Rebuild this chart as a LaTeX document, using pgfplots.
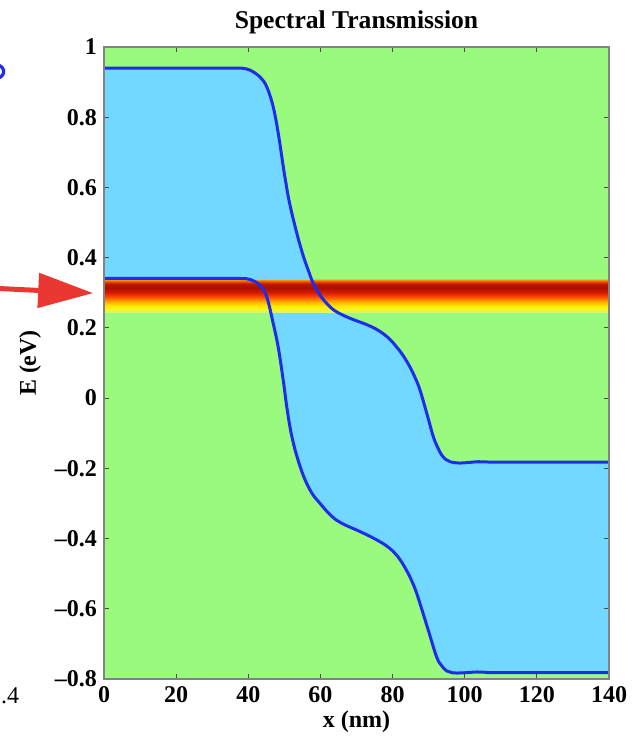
\documentclass[border=0pt]{standalone}
\usepackage{pgfplots}
\pgfplotsset{compat=1.18}
\usepackage{pgfplotstable}
\usepgfplotslibrary{fillbetween}
\usetikzlibrary{arrows.meta}
\usepackage{fontspec}
\setmainfont{Liberation Serif}

\definecolor{bggreen}{RGB}{154,250,126}
\definecolor{bandblue}{RGB}{115,216,255}
\definecolor{curveblue}{RGB}{30,45,235}
\definecolor{arrowred}{RGB}{235,55,50}
\definecolor{framegray}{RGB}{130,130,130}

\definecolor{ba}{RGB}{215,245,115}
\definecolor{bb}{RGB}{245,245,40}
\definecolor{bc}{RGB}{255,235,0}
\definecolor{bd}{RGB}{255,190,0}
\definecolor{be}{RGB}{255,120,0}
\definecolor{bf}{RGB}{245,60,0}
\definecolor{bg}{RGB}{210,25,0}
\definecolor{bh}{RGB}{170,15,0}
\definecolor{bi}{RGB}{190,25,0}
\definecolor{bj}{RGB}{240,90,0}
\definecolor{bk}{RGB}{255,170,0}

\pgfdeclareverticalshading{bandshade}{100bp}{%
  color(0bp)=(ba); color(25bp)=(ba); color(28.8bp)=(bb); color(34.1bp)=(bc);
  color(39.5bp)=(bd); color(44.9bp)=(be); color(50.3bp)=(bf); color(55.6bp)=(bg);
  color(62.6bp)=(bh); color(68.5bp)=(bi); color(72.3bp)=(bj); color(75bp)=(bk);
  color(100bp)=(bk)}

% upper band edge
\pgfplotstableread{
x E
0 0.940
20 0.940
36 0.940
38.5 0.939
40.5 0.934
43.2 0.915
45.1 0.887
46.9 0.830
48.3 0.755
49.7 0.659
50.4 0.615
51.1 0.573
52.0 0.530
53.0 0.488
54.1 0.445
55.3 0.403
56.6 0.365
58.0 0.327
59.8 0.295
61.7 0.270
63.8 0.250
66.3 0.236
69.0 0.224
71.9 0.213
74.2 0.203
76.5 0.190
79.0 0.170
81.1 0.146
83.0 0.120
84.8 0.089
86.3 0.057
87.6 0.023
89.5 -0.044
91.3 -0.110
92.5 -0.140
93.6 -0.162
94.8 -0.175
95.9 -0.181
97.3 -0.184
98.7 -0.185
101.5 -0.183
104 -0.181
107 -0.182
140 -0.182
}\upperedge

% lower band edge
\pgfplotstableread{
x E
0 0.341
20 0.341
36 0.341
38.5 0.340
40.5 0.338
43.2 0.322
45.1 0.289
46.9 0.213
48.3 0.145
49.7 0.050
50.6 -0.020
51.6 -0.085
52.5 -0.128
53.4 -0.163
54.8 -0.208
56.2 -0.243
57.9 -0.275
59.9 -0.300
62.0 -0.325
64.5 -0.348
67.2 -0.363
70.1 -0.376
73.2 -0.391
76.5 -0.409
79.0 -0.426
81.1 -0.447
83.0 -0.475
84.8 -0.509
86.3 -0.545
87.6 -0.585
89.9 -0.661
92.2 -0.737
93.6 -0.762
95.0 -0.777
96.4 -0.782
97.8 -0.783
100.5 -0.782
103.3 -0.780
106 -0.781
110 -0.782
140 -0.782
}\loweredge

\begin{document}
\begin{tikzpicture}
\begin{axis}[
  name=ax,
  scale only axis,
  width=252.5pt, height=316pt,
  xmin=0, xmax=140, ymin=-0.8, ymax=1,
  xtick={0,20,...,140},
  ytick={-0.8,-0.6,-0.4,-0.2,0,0.2,0.4,0.6,0.8,1},
  yticklabels={–0.8,–0.6,–0.4,–0.2,0,0.2,0.4,0.6,0.8,1},
  tick align=inside,
  major tick length=2.5pt,
  tick style={black!70, line width=0.4pt},
  axis line style={framegray, line width=0.6pt},
  axis background/.style={fill=bggreen},
  axis on top,
  clip=false,
  /pgf/number format/assume math mode=true,
  tick label style={font=\bfseries\fontsize{12}{12}\selectfont},
  title={Spectral Transmission},
  title style={font=\bfseries\fontsize{12.8}{13}\selectfont, at={(axis description cs:0.5,1)}, anchor=base, yshift=3pt},
  xlabel={x (nm)},
  xlabel style={font=\bfseries\fontsize{12}{12}\selectfont, at={(axis description cs:0.5,0)}, anchor=base, yshift=-24pt},
  ylabel={E (eV)},
  ylabel style={font=\bfseries\fontsize{12}{12}\selectfont, at={(axis description cs:0,0.5)}, anchor=center, yshift=37pt},
]
\addplot[draw=none, name path=up] table[x=x, y=E] {\upperedge};
\addplot[draw=none, name path=lo] table[x=x, y=E] {\loweredge};
\addplot[fill=bandblue, draw=none] fill between[of=up and lo];

% transmission band
\addplot[draw=none, shade, shading=bandshade] coordinates {(0,0.245) (140,0.245) (140,0.338) (0,0.338)} -- cycle;

\addplot[curveblue, line width=1.5pt, smooth, tension=0.6] table[x=x, y=E] {\upperedge};
\addplot[curveblue, line width=1.5pt, smooth, tension=0.6] table[x=x, y=E] {\loweredge};

% bits of the neighbouring panel
\draw[arrowred, line width=2.5pt, -{Triangle[length=27.5pt, width=17pt]}] (axis cs:-28.8,0.312) -- (axis cs:-3,0.299);
\draw[curveblue, line width=1.6pt] (axis cs:-29.6,0.930) circle[radius=3.2pt];
\node[anchor=base west, font=\fontsize{12}{12}\selectfont, inner sep=0pt] at (axis cs:-28.6,-0.869) {.4};
\end{axis}
\pgfresetboundingbox
\path[use as bounding box] ([xshift=-52pt, yshift=-29.5pt]ax.south west) rectangle ([xshift=16pt, yshift=23.5pt]ax.north east);
\end{tikzpicture}
\end{document}
